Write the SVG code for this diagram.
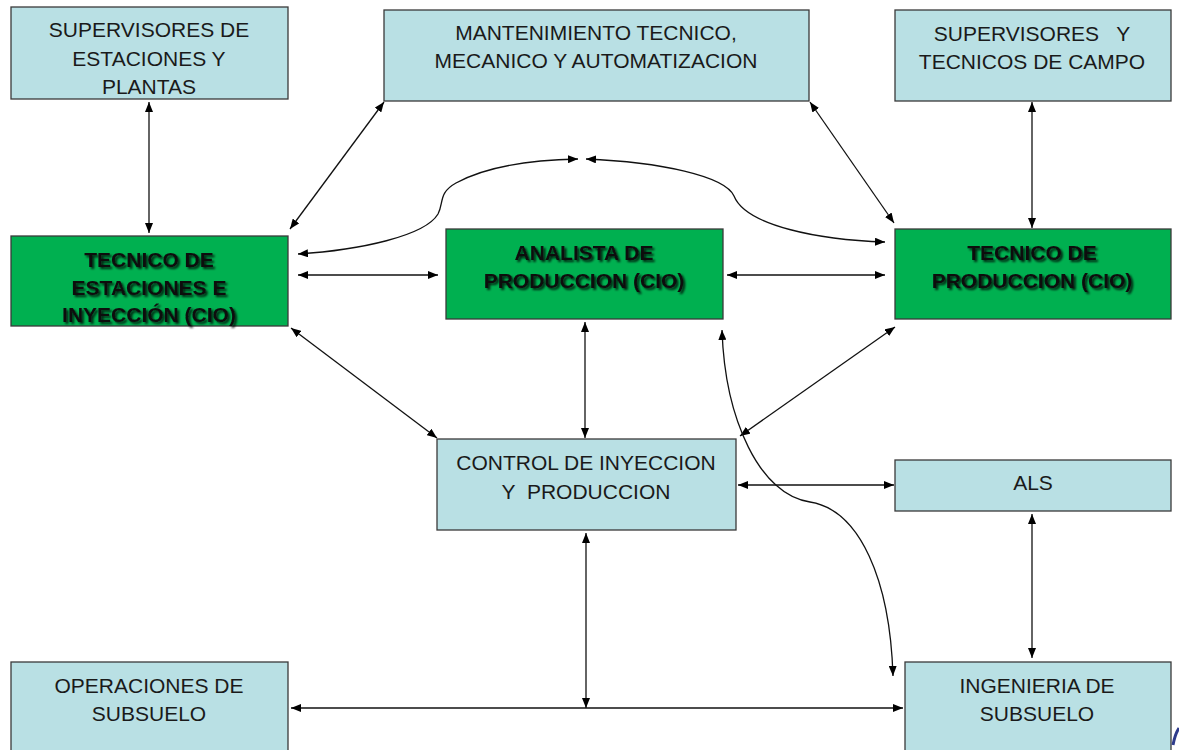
<svg xmlns="http://www.w3.org/2000/svg" width="1179" height="750" viewBox="0 0 1179 750">
<defs>
<marker id="ah" viewBox="0 0 10 8" refX="10" refY="4" markerWidth="10" markerHeight="8" markerUnits="userSpaceOnUse" orient="auto-start-reverse">
<path d="M0,0 L10,4 L0,8 Z" fill="#000"/>
</marker>
<filter id="sh" x="-10%" y="-30%" width="120%" height="160%">
<feGaussianBlur in="SourceAlpha" stdDeviation="1.3" result="b"/>
<feOffset in="b" dx="1.5" dy="1.5" result="o"/>
<feComponentTransfer in="o" result="o2"><feFuncA type="linear" slope="0.8"/></feComponentTransfer>
<feMerge><feMergeNode in="o2"/><feMergeNode in="SourceGraphic"/></feMerge>
</filter>
</defs>
<style>
.lb{fill:#B9E0E4;stroke:#3a3a3a;stroke-width:1.3}
.gr{fill:#00B050;stroke:#3a3a3a;stroke-width:1.3}
.t{font-family:"Liberation Sans",Arial,sans-serif;font-size:21px;fill:#1a1a1a;text-anchor:middle;white-space:pre}
.tb{font-family:"Liberation Sans",Arial,sans-serif;font-size:21px;font-weight:bold;fill:#111;text-anchor:middle;filter:url(#sh)}
.c{fill:none;stroke:#111;stroke-width:1.3;marker-start:url(#ah);marker-end:url(#ah)}
</style>
<rect width="1179" height="750" fill="#fff"/>

<g id="connectors">
<line class="c" x1="149" y1="102" x2="149" y2="233"/>
<line class="c" x1="384" y1="102" x2="290" y2="229"/>
<line class="c" x1="810" y1="102" x2="894" y2="223"/>
<line class="c" x1="1032" y1="102" x2="1032" y2="228"/>
<path class="c" d="M 298,254 C 360,250 425,236 438,214 C 444,203 438,193 456,183 C 485,167 530,160 578,159"/>
<path class="c" d="M 586,159 C 660,162 725,176 734,196 C 746,226 820,240 885,242"/>
<line class="c" x1="298" y1="275" x2="438" y2="275"/>
<line class="c" x1="727" y1="275" x2="885" y2="275"/>
<line class="c" x1="291" y1="328" x2="437" y2="438"/>
<line class="c" x1="585" y1="322" x2="585" y2="438"/>
<line class="c" x1="740" y1="436" x2="895" y2="327"/>
<path class="c" d="M 722,330 C 725,420 760,495 810,502 C 860,510 890,580 893,676"/>
<line class="c" x1="738" y1="485" x2="894" y2="485"/>
<line class="c" x1="1032" y1="514" x2="1032" y2="658"/>
<path d="M 586,708 L 586,533" fill="none" stroke="#111" stroke-width="1.3" marker-start="url(#ah)" marker-end="url(#ah)"/>
<line class="c" x1="291" y1="708" x2="903" y2="708"/>
</g>

<g id="sup-estaciones">
<rect class="lb" x="11" y="7" width="277" height="92"/>
<text class="t" x="149" y="37">SUPERVISORES DE</text>
<text class="t" x="149" y="66">ESTACIONES Y</text>
<text class="t" x="149" y="94">PLANTAS</text>
</g>

<g id="mantenimiento">
<rect class="lb" x="384" y="10" width="425" height="91"/>
<text class="t" x="596" y="40">MANTENIMIENTO TECNICO,</text>
<text class="t" x="596" y="68">MECANICO Y AUTOMATIZACION</text>
</g>

<g id="sup-campo">
<rect class="lb" x="895" y="10" width="276" height="91"/>
<text class="t" x="1032" y="41">SUPERVISORES   Y</text>
<text class="t" x="1032" y="69">TECNICOS DE CAMPO</text>
</g>

<g id="tecnico-estaciones">
<rect class="gr" x="11" y="236" width="277" height="90"/>
<text class="tb" x="149" y="267">TECNICO DE</text>
<text class="tb" x="149" y="295">ESTACIONES E</text>
<text class="tb" x="149" y="322">INYECCIÓN (CIO)</text>
</g>

<g id="analista">
<rect class="gr" x="446" y="229" width="277" height="90"/>
<text class="tb" x="584" y="260">ANALISTA DE</text>
<text class="tb" x="584" y="288">PRODUCCION (CIO)</text>
</g>

<g id="tecnico-produccion">
<rect class="gr" x="895" y="229" width="276" height="90"/>
<text class="tb" x="1032" y="260">TECNICO DE</text>
<text class="tb" x="1032" y="288">PRODUCCION (CIO)</text>
</g>

<g id="control">
<rect class="lb" x="437" y="439" width="299" height="91"/>
<text class="t" x="586" y="470">CONTROL DE INYECCION</text>
<text class="t" x="586" y="499">Y  PRODUCCION</text>
</g>

<g id="als">
<rect class="lb" x="895" y="460" width="276" height="51"/>
<text class="t" x="1033" y="490">ALS</text>
</g>

<g id="operaciones">
<rect class="lb" x="11" y="662" width="277" height="100"/>
<text class="t" x="149" y="693">OPERACIONES DE</text>
<text class="t" x="149" y="721">SUBSUELO</text>
</g>

<g id="ingenieria">
<rect class="lb" x="905" y="662" width="266" height="100"/>
<text class="t" x="1037" y="693">INGENIERIA DE</text>
<text class="t" x="1037" y="721">SUBSUELO</text>
</g>

<path d="M 1173,745 Q 1175,734 1179,728" fill="none" stroke="#2E3B8C" stroke-width="3"/>
</svg>
